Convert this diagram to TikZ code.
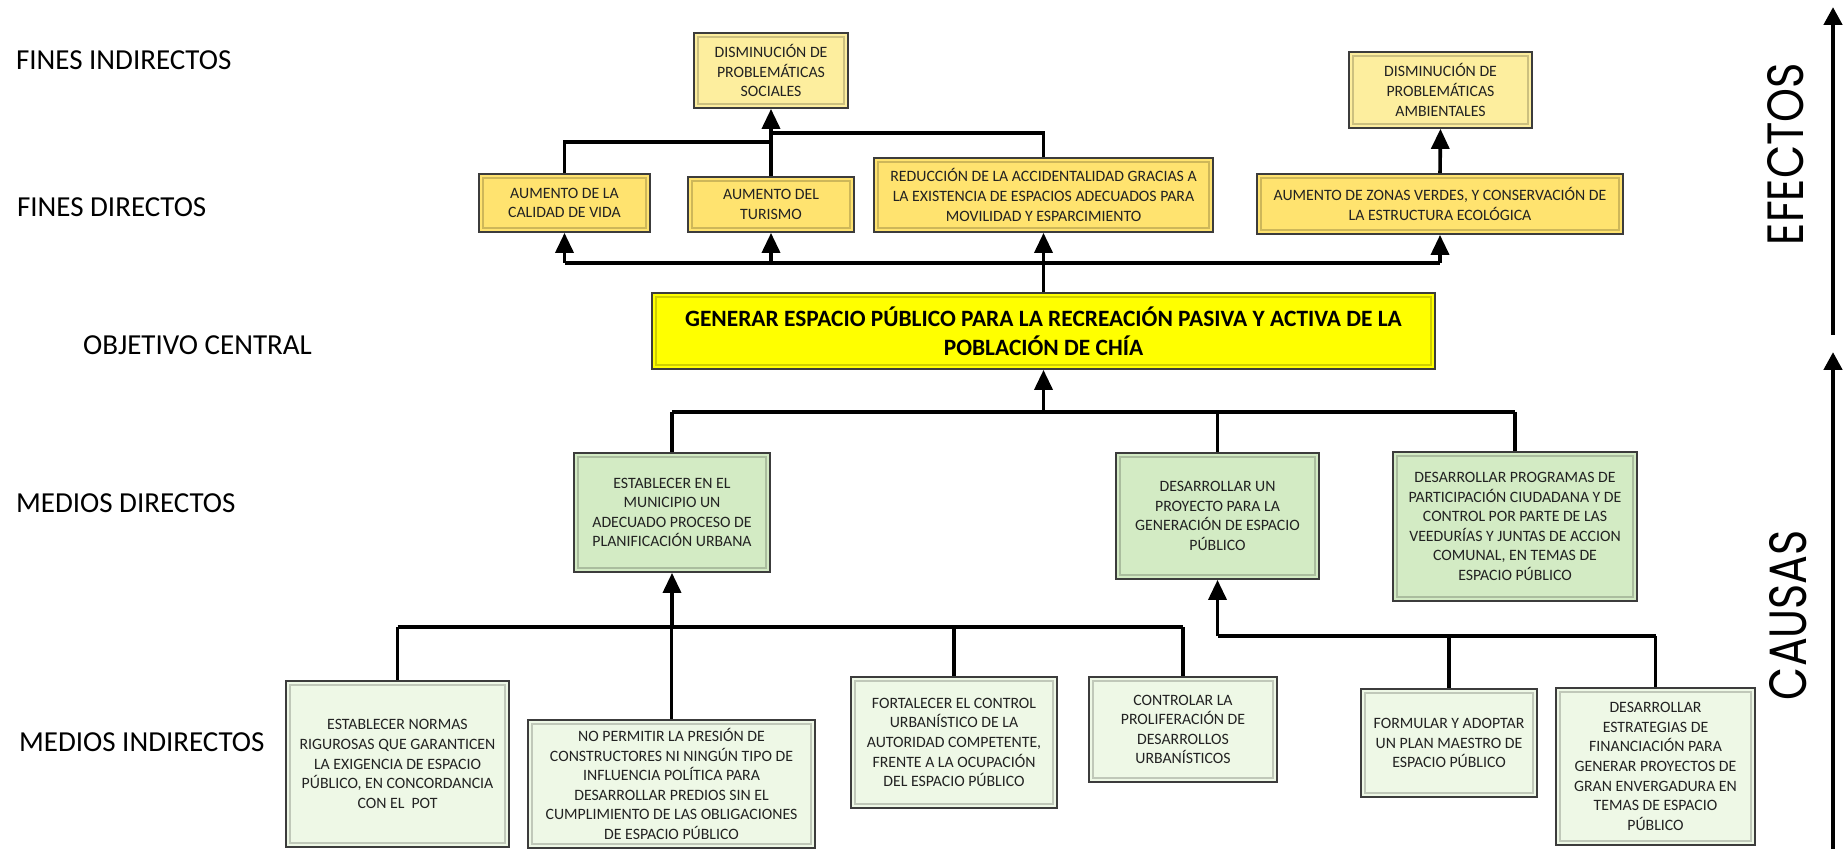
\documentclass[tikz,border=0pt]{standalone}
\usepackage{graphicx}
\usepackage{fontspec}
\setmainfont{Carlito}
\newfontfamily\gothic{Poppins}
\usetikzlibrary{arrows.meta}
\definecolor{fdcol}{HTML}{FFE36F}
\definecolor{ficol}{HTML}{FDEE9E}
\definecolor{objcol}{HTML}{FFFF00}
\definecolor{mdcol}{HTML}{D3EBC4}
\definecolor{micol}{HTML}{EEF8E6}
\definecolor{bordercol}{HTML}{3C3C3C}
\definecolor{txt}{HTML}{222222}
\tikzset{
  box/.style={draw=bordercol, line width=0.9pt, inner sep=0pt, align=center, text=txt,
    font=\fontsize{7.9}{9.8}\selectfont},
  conn/.style={line width=1.8pt, black},
  arr/.style={conn, -{Triangle[length=10pt,width=9pt]}},
  lab/.style={anchor=base west, font=\fontsize{14.5}{16}\selectfont, text=black},
  bigarr/.style={line width=2.4pt, -{Triangle[length=9pt,width=9pt]}},
  bevel/.style={line width=0.8pt, opacity=0.55}
}
\begin{document}
\begin{tikzpicture}[x=0.5pt,y=-0.5pt]
\useasboundingbox (0,0) rectangle (1845,849);

% row labels
\node[lab] (l1) at (9,69.3) {FINES INDIRECTOS};
\node[lab] (l2) at (10,216.3) {FINES DIRECTOS};
\node[lab] (l3) at (76,354.3) {OBJETIVO CENTRAL};
\node[lab] (l4) at (9,512.3) {MEDIOS DIRECTOS};
\node[lab] (l5) at (12,751.3) {MEDIOS INDIRECTOS};

% fines indirectos
\node[box, fill=ficol, minimum width=77pt, minimum height=37.5pt] (fi1) at (771,70.5)
  {DISMINUCIÓN DE\\PROBLEMÁTICAS\\SOCIALES};
\node[box, fill=ficol, minimum width=91.5pt, minimum height=38pt] (fi2) at (1440.5,90)
  {DISMINUCIÓN DE\\PROBLEMÁTICAS\\AMBIENTALES};

% fines directos
\node[box, fill=fdcol, minimum width=85.5pt, minimum height=29pt] (fd1) at (564.5,203)
  {AUMENTO DE LA\\CALIDAD DE VIDA};
\node[box, fill=fdcol, minimum width=83pt, minimum height=27.5pt] (fd2) at (771,204.5)
  {AUMENTO DEL\\TURISMO};
\node[box, fill=fdcol, minimum width=169.5pt, minimum height=37pt] (fd3) at (1043.5,195)
  {REDUCCIÓN DE LA ACCIDENTALIDAD GRACIAS A\\LA EXISTENCIA DE ESPACIOS ADECUADOS PARA\\MOVILIDAD Y ESPARCIMIENTO};
\node[box, fill=fdcol, minimum width=183pt, minimum height=30pt] (fd4) at (1440,204)
  {AUMENTO DE ZONAS VERDES, Y CONSERVACIÓN DE\\LA ESTRUCTURA ECOLÓGICA};

% objetivo central
\node[box, fill=objcol, minimum width=391.5pt, minimum height=38pt,
  font=\bfseries\fontsize{11.7}{14.5}\selectfont, text=black] (obj) at (1043.5,331)
  {GENERAR ESPACIO PÚBLICO PARA LA RECREACIÓN PASIVA Y ACTIVA DE LA\\POBLACIÓN DE CHÍA};

% medios directos
\node[box, fill=mdcol, minimum width=98pt, minimum height=59.5pt] (md1) at (672,512.5)
  {ESTABLECER EN EL\\MUNICIPIO UN\\ADECUADO PROCESO DE\\PLANIFICACIÓN URBANA};
\node[box, fill=mdcol, minimum width=101.5pt, minimum height=63pt] (md2) at (1217.5,516)
  {DESARROLLAR UN\\PROYECTO PARA LA\\GENERACIÓN DE ESPACIO\\PÚBLICO};
\node[box, fill=mdcol, minimum width=122pt, minimum height=74.5pt] (md3) at (1515,526.5)
  {DESARROLLAR PROGRAMAS DE\\PARTICIPACIÓN CIUDADANA Y DE\\CONTROL POR PARTE DE LAS\\VEEDURÍAS Y JUNTAS DE ACCION\\COMUNAL, EN TEMAS DE\\ESPACIO PÚBLICO};

% medios indirectos
\node[box, fill=micol, minimum width=111.5pt, minimum height=83pt] (mi1) at (397.5,764)
  {ESTABLECER NORMAS\\RIGUROSAS QUE GARANTICEN\\LA EXIGENCIA DE ESPACIO\\PÚBLICO, EN CONCORDANCIA\\CON EL\ \ POT};
\node[box, fill=micol, minimum width=143.5pt, minimum height=64pt] (mi2) at (671.5,784)
  {NO PERMITIR LA PRESIÓN DE\\CONSTRUCTORES NI NINGÚN TIPO DE\\INFLUENCIA POLÍTICA PARA\\DESARROLLAR PREDIOS SIN EL\\CUMPLIMIENTO DE LAS OBLIGACIONES\\DE ESPACIO PÚBLICO};
\node[box, fill=micol, minimum width=103pt, minimum height=65.5pt] (mi3) at (954,742.5)
  {FORTALECER EL CONTROL\\URBANÍSTICO DE LA\\AUTORIDAD COMPETENTE,\\FRENTE A LA OCUPACIÓN\\DEL ESPACIO PÚBLICO};
\node[box, fill=micol, minimum width=94pt, minimum height=52.5pt] (mi4) at (1183,729.5)
  {CONTROLAR LA\\PROLIFERACIÓN DE\\DESARROLLOS\\URBANÍSTICOS};
\node[box, fill=micol, minimum width=88pt, minimum height=54pt] (mi5) at (1449,743)
  {FORMULAR Y ADOPTAR\\UN PLAN MAESTRO DE\\ESPACIO PÚBLICO};
\node[box, fill=micol, minimum width=99.5pt, minimum height=78.5pt] (mi6) at (1655.5,766.5)
  {DESARROLLAR\\ESTRATEGIAS DE\\FINANCIACIÓN PARA\\GENERAR PROYECTOS DE\\GRAN ENVERGADURA EN\\TEMAS DE ESPACIO\\PÚBLICO};

% bevels
\foreach \n/\c in {fi1/ficol,fi2/ficol,fd1/fdcol,fd2/fdcol,fd3/fdcol,fd4/fdcol,obj/objcol,
  md1/mdcol,md2/mdcol,md3/mdcol,mi1/micol,mi2/micol,mi3/micol,mi4/micol,mi5/micol,mi6/micol}
  \draw[bevel, draw=\c!65!black] ([xshift=2.5pt,yshift=-2.5pt]\n.north west) rectangle ([xshift=-2.5pt,yshift=2.5pt]\n.south east);

% junction lines
\coordinate (jt1) at (771,142);
\coordinate (jt2) at (771,133);
\coordinate (hb) at (0,263);
\coordinate (hm) at (0,412);
\coordinate (hl) at (0,627);
\coordinate (hr) at (0,636);

% top: fines directos -> fines indirectos
\draw[conn] (fd1.north) |- (jt1);
\draw[conn] (fd3.north) |- (jt2);
\draw[arr] (fd2.north) -- (fi1.south);
\draw[arr] (fd4.north) -- (fi2.south);

% objetivo -> fines directos
\draw[conn] (fd1.south |- hb) -- (fd4.south |- hb);
\draw[arr] (fd1.south |- hb) -- (fd1.south);
\draw[arr] (fd2.south |- hb) -- (fd2.south);
\draw[arr] (fd4.south |- hb) -- (fd4.south);
\draw[arr] (obj.north) -- (fd3.south);

% medios directos -> objetivo
\draw[conn] (md1.north |- hm) -- (md3.north |- hm);
\draw[conn] (md1.north |- hm) -- (md1.north);
\draw[conn] (md2.north |- hm) -- (md2.north);
\draw[conn] (md3.north |- hm) -- (md3.north);
\draw[arr] (obj.south |- hm) -- (obj.south);

% medios indirectos -> md1
\draw[conn] (mi1.north |- hl) -- (mi4.north |- hl);
\draw[conn] (mi1.north |- hl) -- (mi1.north);
\draw[conn] (mi2.north |- hl) -- (mi2.north);
\draw[conn] (mi3.north |- hl) -- (mi3.north);
\draw[conn] (mi4.north |- hl) -- (mi4.north);
\draw[arr] (md1.south |- hl) -- (md1.south);

% medios indirectos -> md2
\draw[conn] (md2.south |- hr) -- (mi6.north |- hr);
\draw[conn] (mi5.north |- hr) -- (mi5.north);
\draw[conn] (mi6.north |- hr) -- (mi6.north);
\draw[arr] (md2.south |- hr) -- (md2.south);

% side arrows
\coordinate (ea) at (1833,335);
\coordinate (et) at (1833,7);
\coordinate (cb) at (1833,849);
\coordinate (ct) at (1833,352);
\draw[bigarr] (ea) -- (et);
\draw[bigarr] (cb) -- (ct);
\node[rotate=90, inner sep=0pt, font=\gothic] (efectos) at (1786,154) {\resizebox{91pt}{18pt}{EFECTOS}};
\node[rotate=90, inner sep=0pt, font=\gothic] (causas) at (1788,615) {\resizebox{85pt}{18.5pt}{CAUSAS}};
\end{tikzpicture}
\end{document}
